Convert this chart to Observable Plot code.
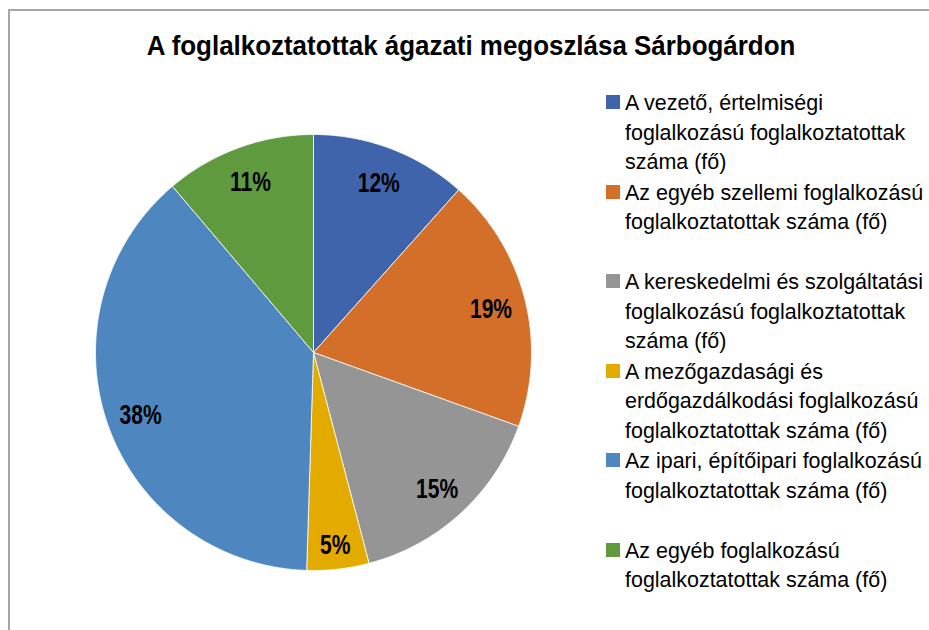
<!DOCTYPE html>
<html>
<head>
<meta charset="utf-8">
<script src="https://cdn.jsdelivr.net/npm/d3@7"></script>
<script src="https://cdn.jsdelivr.net/npm/@observablehq/plot@0.6"></script>
<style>
  html, body { margin: 0; padding: 0; background: #fff; }
  #wrap { position: relative; width: 929px; height: 630px; overflow: hidden; background: #fff;
          font-family: "Liberation Sans", Arial, sans-serif; }
  #frame { position: absolute; left: 8px; top: 9px; width: 940px; height: 640px;
           border-left: 2px solid #a6a6a6; border-top: 2px solid #a6a6a6; box-sizing: border-box; }
  #title { position: absolute; left: 471px; top: 31px; transform: translateX(-50%) scaleX(0.96);
           font-weight: bold; font-size: 27px; color: #000; white-space: nowrap; }
  #chart { position: absolute; left: 0; top: 0; }
  .entry { position: absolute; left: 606px; }
  .sw { position: absolute; left: 0; width: 14px; height: 14px; }
  .lbl { position: absolute; left: 19px; white-space: nowrap; font-size: 22px; line-height: 29.5px; color: #000;
         transform: scaleX(0.975); transform-origin: 0 0; }
</style>
</head>
<body>
<div id="wrap">
  <div id="frame"></div>
  <div id="chart"></div>
  <div id="title">A foglalkoztatottak ágazati megoszlása Sárbogárdon</div>
  <div id="legend"></div>
</div>
<script>
// Data
const categories = [
  "A vezető, értelmiségi foglalkozású foglalkoztatottak száma (fő)",
  "Az egyéb szellemi foglalkozású foglalkoztatottak száma (fő)",
  "A kereskedelmi és szolgáltatási foglalkozású foglalkoztatottak száma (fő)",
  "A mezőgazdasági és erdőgazdálkodási foglalkozású foglalkoztatottak száma (fő)",
  "Az ipari, építőipari foglalkozású foglalkoztatottak száma (fő)",
  "Az egyéb foglalkozású foglalkoztatottak száma (fő)"
];
const legendLines = [
  ["A vezető, értelmiségi", "foglalkozású foglalkoztatottak", "száma (fő)"],
  ["Az egyéb szellemi foglalkozású", "foglalkoztatottak száma (fő)"],
  ["A kereskedelmi és szolgáltatási", "foglalkozású foglalkoztatottak", "száma (fő)"],
  ["A mezőgazdasági és", "erdőgazdálkodási foglalkozású", "foglalkoztatottak száma (fő)"],
  ["Az ipari, építőipari foglalkozású", "foglalkoztatottak száma (fő)"],
  ["Az egyéb foglalkozású", "foglalkoztatottak száma (fő)"]
];
const values = [11.6, 18.9, 15.4, 4.6, 38.3, 11.2];
const colors = ["#3f64ac", "#d46f2a", "#959595", "#e3aa00", "#4e87bf", "#609a3e"];

// Geometry of slices (computed from values)
const total = d3.sum(values);
const slices = [];
const labels = [];
let acc = 0;
values.forEach((v, i) => {
  const a0 = acc / total * 2 * Math.PI;
  acc += v;
  const a1 = acc / total * 2 * Math.PI;
  const n = Math.max(2, Math.ceil((a1 - a0) / (Math.PI / 360)));
  slices.push({cat: categories[i], x: 0, y: 0});
  for (let k = 0; k <= n; k++) {
    const a = a0 + (a1 - a0) * k / n;
    slices.push({cat: categories[i], x: Math.sin(a), y: Math.cos(a)});
  }
  slices.push({cat: categories[i], x: 0, y: 0});
  const am = (a0 + a1) / 2;
  const rr = v < 8 ? 0.88 : 0.84;
  labels.push({cat: categories[i], x: rr * Math.sin(am), y: rr * Math.cos(am),
               text: Math.round(v / total * 100) + "%"});
});

const plot = Plot.plot({
  width: 929,
  height: 630,
  marginLeft: 95,
  marginRight: 398,
  marginTop: 134,
  marginBottom: 60,
  x: {domain: [-1, 1], axis: null},
  y: {domain: [-1, 1], axis: null},
  color: {domain: categories, range: colors},
  style: {background: "transparent", overflow: "visible"},
  marks: [
    Plot.line(slices, {x: "x", y: "y", z: "cat", fill: "cat", stroke: "#ffffff",
                       strokeWidth: 1, strokeOpacity: 0.8, curve: "linear"}),
    Plot.text(labels, {x: "x", y: "y", text: "text", fill: "#000", dy: 2,
                       fontSize: 27, fontWeight: "bold", className: "pielbl",
                       fontFamily: "'Liberation Sans', Arial, sans-serif"})
  ]
});
document.getElementById("chart").appendChild(plot);

// Condense the pie labels horizontally (narrow font look)
plot.querySelectorAll("g.pielbl text").forEach(t => {
  const tr = t.getAttribute("transform");
  if (tr && /translate/.test(tr)) {
    t.setAttribute("transform", tr + " scale(0.78,1)");
  } else {
    const x = t.getAttribute("x") || 0, y = t.getAttribute("y") || 0;
    t.removeAttribute("x"); t.removeAttribute("y");
    t.setAttribute("transform", `translate(${x},${y}) ` + (tr || "") + " scale(0.78,1)");
  }
});

// Legend
const legend = document.getElementById("legend");
const entryTops = [103, 192.5, 282, 371.5, 461, 550.5];
legendLines.forEach((lines, i) => {
  const e = document.createElement("div");
  e.className = "entry";
  e.style.top = (entryTops[i] - 14.75) + "px";
  const sw = document.createElement("div");
  sw.className = "sw";
  sw.style.background = colors[i];
  sw.style.top = "7px";
  e.appendChild(sw);
  const l = document.createElement("div");
  l.className = "lbl";
  l.innerHTML = lines.join("<br>");
  e.appendChild(l);
  legend.appendChild(e);
});
</script>
</body>
</html>
